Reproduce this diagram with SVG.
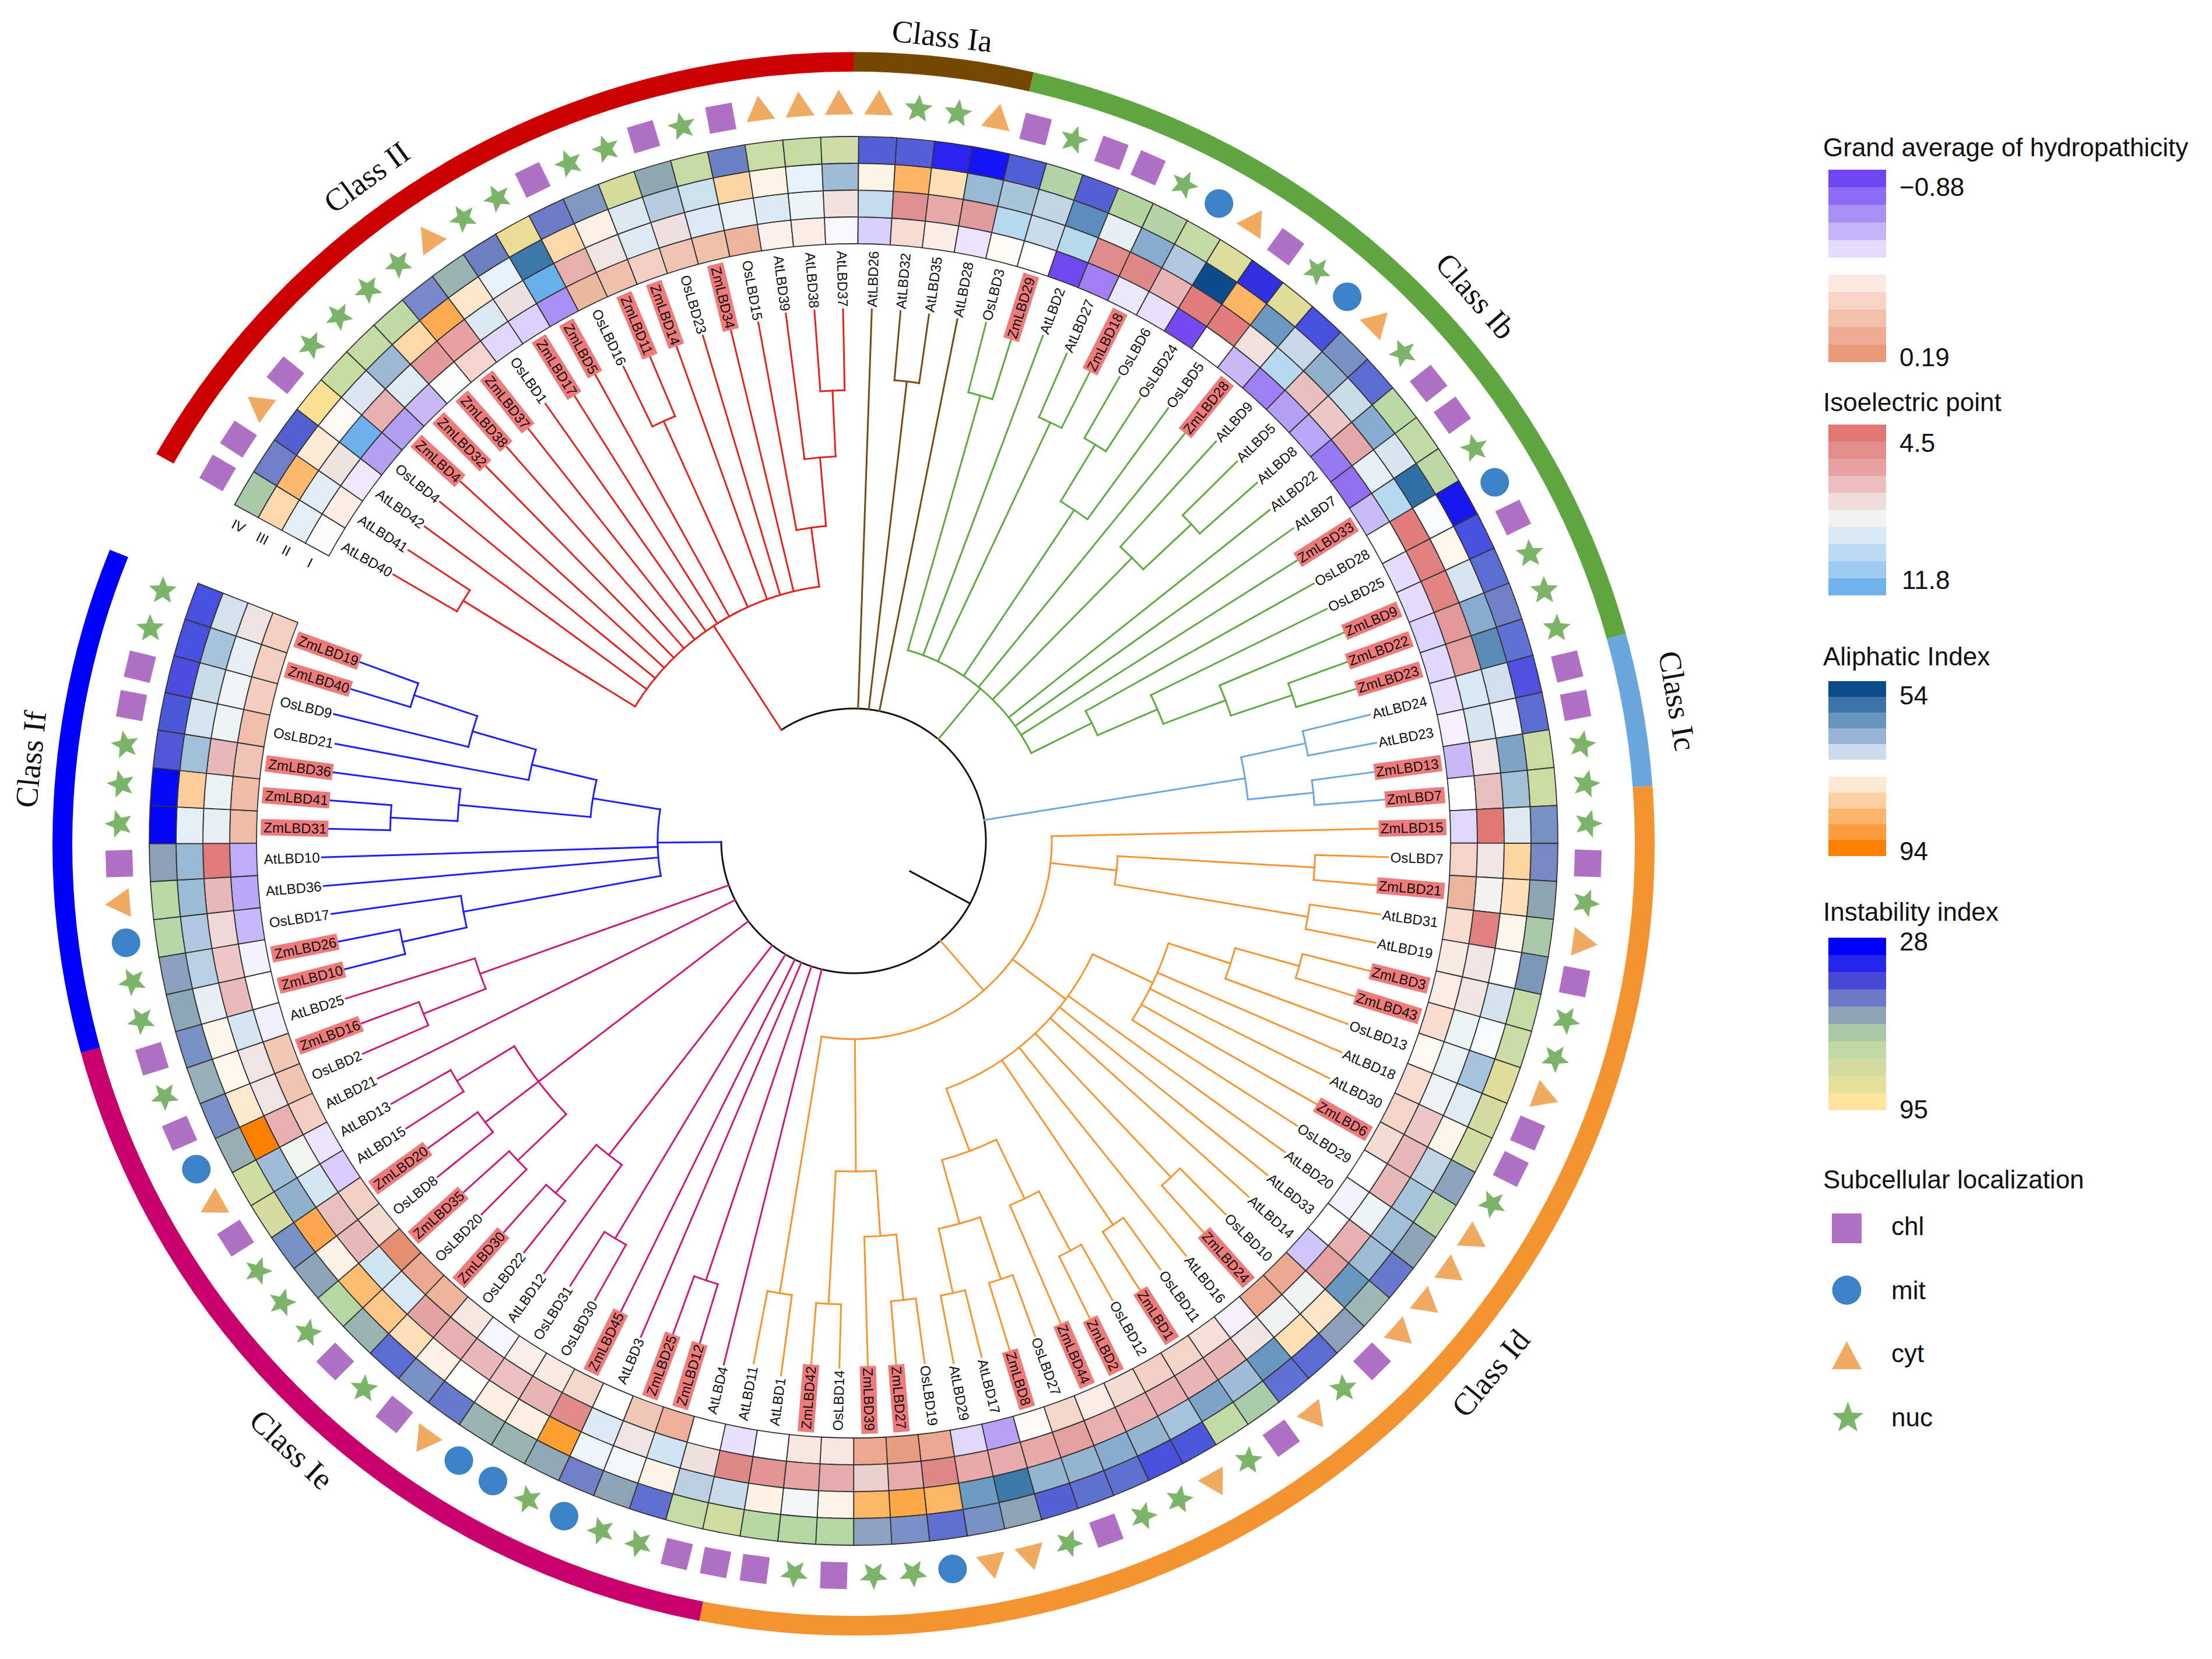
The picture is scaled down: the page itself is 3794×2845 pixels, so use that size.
<svg xmlns="http://www.w3.org/2000/svg" width="3794" height="2845" viewBox="0 0 3794 2845">
<defs>
<style>
.lr,.ll{font-family:"Liberation Sans",Arial,sans-serif;font-size:24px;fill:#111;dominant-baseline:central}
.lr{text-anchor:end}.ll{text-anchor:start}
.hm{font-family:"Liberation Sans",Arial,sans-serif;font-size:24px;fill:#111;text-anchor:middle;dominant-baseline:central}
.cl{font-family:"Liberation Serif","Times New Roman",serif;font-size:54px;fill:#111;text-anchor:middle;dominant-baseline:central}
.lg{font-family:"Liberation Sans",Arial,sans-serif;font-size:44px;fill:#111}
.hl{fill:#ee7b7b}
.chl{fill:#b071c4}.mit{fill:#3c82c6}.cyt{fill:#f1aa62}.nuc{fill:#7cb46a}
</style>
<path id="c1" stroke="#333" stroke-width="1.8" d="M1023.63,-27.66 L1069.61,-28.91 A1070,1070 0 0 1 1069.61,28.91 L1023.63,27.66 A1024,1024 0 0 0 1023.63,-27.66 Z"/>
<path id="c2" stroke="#333" stroke-width="1.8" d="M1069.61,-28.91 L1115.59,-30.15 A1116,1116 0 0 1 1115.59,30.15 L1069.61,28.91 A1070,1070 0 0 0 1069.61,-28.91 Z"/>
<path id="c3" stroke="#333" stroke-width="1.8" d="M1115.59,-30.15 L1161.58,-31.39 A1162,1162 0 0 1 1161.58,31.39 L1115.59,30.15 A1116,1116 0 0 0 1115.59,-30.15 Z"/>
<path id="c4" stroke="#333" stroke-width="1.8" d="M1161.58,-31.39 L1207.56,-32.63 A1208,1208 0 0 1 1207.56,32.63 L1161.58,31.39 A1162,1162 0 0 0 1161.58,-31.39 Z"/>
<rect id="sq" x="1237" y="-23" width="46" height="46"/>
<circle id="ci" cx="1260" cy="0" r="24.5"/>
<polygon id="tr" points="1288.5,0 1245.75,-24.68 1245.75,24.68"/>
<polygon id="st" points="1285,0 1268.9,6.47 1267.73,23.78 1256.6,10.46 1239.77,14.69 1249,0 1239.77,-14.69 1256.6,-10.46 1267.73,-23.78 1268.9,-6.47"/>
<rect id="b1" x="914.3" y="-14" width="102.7" height="28"/>
<rect id="b2" x="901" y="-14" width="116" height="28"/>
</defs>
<rect width="3794" height="2845" fill="#ffffff"/>

<g id="class-ring" transform="translate(1464 1447) scale(1 0.9882)" fill="none" stroke-width="34">
<circle r="1357" transform="rotate(209.5)" stroke="#cc0000" stroke-dasharray="1432.9 9999"/>
<circle r="1357" transform="rotate(270)" stroke="#744800" stroke-dasharray="307.9 9999"/>
<circle r="1357" transform="rotate(283)" stroke="#5fa641" stroke-dasharray="1458.9 9999"/>
<circle r="1357" transform="rotate(344.6)" stroke="#6ba6dc" stroke-dasharray="265.3 9999"/>
<circle r="1357" transform="rotate(355.8)" stroke="#f39431" stroke-dasharray="2493.9 9999"/>
<circle r="1357" transform="rotate(461.1)" stroke="#c8006e" stroke-dasharray="1506.3 9999"/>
<circle r="1357" transform="rotate(524.7)" stroke="#0000ff" stroke-dasharray="878.7 9999"/>
</g>
<g id="class-labels">
<text class="cl" transform="translate(1616 62) rotate(6.3)">Class Ia</text>
<text class="cl" transform="translate(629 304) rotate(-36.2)">Class II</text>
<text class="cl" transform="translate(2531 508) rotate(48.7)">Class Ib</text>
<text class="cl" transform="translate(2877 1202) rotate(80.2)">Class Ic</text>
<text class="cl" transform="translate(2557 2355) rotate(-50.3)">Class Id</text>
<text class="cl" transform="translate(500 2486) rotate(42.9)">Class Ie</text>
<text class="cl" transform="translate(53 1302) rotate(-84.1)">Class If</text>
</g>

<g id="connectors" transform="translate(1464 1442)" fill="none" stroke-width="3" stroke-linecap="square">
<g stroke="#111">
<circle r="227" transform="rotate(236.95)" stroke-dasharray="1198.6 9999"/>
<line x1="110" x2="227" transform="rotate(28.25)"/>
</g>
<g stroke="#e3231e">
<line x1="227" x2="440" transform="rotate(236.95)"/>
<circle r="440" transform="rotate(211.6)" stroke-dasharray="389.3 9999"/>
<line x1="440" x2="786" transform="rotate(211.6)"/>
<circle r="786" transform="rotate(210.05)" stroke-dasharray="42.5 9999"/>
<line x1="786" x2="912" transform="rotate(210.05)"/>
<line x1="786" x2="912" transform="rotate(213.15)"/>
<line x1="440" x2="912" transform="rotate(216.24)"/>
<line x1="440" x2="917.3" transform="rotate(219.34)"/>
<line x1="440" x2="913.3" transform="rotate(222.43)"/>
<line x1="440" x2="900" transform="rotate(225.53)"/>
<line x1="440" x2="900" transform="rotate(228.63)"/>
<line x1="440" x2="900" transform="rotate(231.72)"/>
<line x1="440" x2="917.3" transform="rotate(234.82)"/>
<line x1="440" x2="900" transform="rotate(237.91)"/>
<line x1="440" x2="913.3" transform="rotate(241.01)"/>
<line x1="440" x2="790" transform="rotate(245.655)"/>
<circle r="790" transform="rotate(244.11)" stroke-dasharray="42.6 9999"/>
<line x1="790" x2="904" transform="rotate(244.11)"/>
<line x1="790" x2="900" transform="rotate(247.2)"/>
<line x1="440" x2="900" transform="rotate(250.3)"/>
<line x1="440" x2="904" transform="rotate(253.39)"/>
<line x1="440" x2="900" transform="rotate(256.49)"/>
<line x1="440" x2="542" transform="rotate(262.3)"/>
<circle r="542" transform="rotate(259.59)" stroke-dasharray="51.2 9999"/>
<line x1="542" x2="904" transform="rotate(259.59)"/>
<line x1="542" x2="660" transform="rotate(265)"/>
<circle r="660" transform="rotate(262.68)" stroke-dasharray="53.6 9999"/>
<line x1="660" x2="912" transform="rotate(262.68)"/>
<line x1="660" x2="773" transform="rotate(267.325)"/>
<circle r="773" transform="rotate(265.78)" stroke-dasharray="41.7 9999"/>
<line x1="773" x2="912" transform="rotate(265.78)"/>
<line x1="773" x2="912" transform="rotate(268.87)"/>
</g>
<g stroke="#7b4a12">
<line x1="227" x2="912" transform="rotate(271.97)"/>
<line x1="227" x2="793" transform="rotate(276.615)"/>
<circle r="793" transform="rotate(275.07)" stroke-dasharray="42.8 9999"/>
<line x1="793" x2="912" transform="rotate(275.07)"/>
<line x1="793" x2="912" transform="rotate(278.16)"/>
<line x1="227" x2="912" transform="rotate(281.26)"/>
</g>
<g stroke="#5cab3e">
<line x1="227" x2="340" transform="rotate(309.8)"/>
<circle r="340" transform="rotate(285.9)" stroke-dasharray="283.7 9999"/>
<line x1="340" x2="794" transform="rotate(285.9)"/>
<circle r="794" transform="rotate(284.35)" stroke-dasharray="43 9999"/>
<line x1="794" x2="917.3" transform="rotate(284.35)"/>
<line x1="794" x2="900" transform="rotate(287.45)"/>
<line x1="340" x2="925.3" transform="rotate(290.55)"/>
<line x1="340" x2="793" transform="rotate(295.19)"/>
<circle r="793" transform="rotate(293.64)" stroke-dasharray="42.9 9999"/>
<line x1="793" x2="912" transform="rotate(293.64)"/>
<line x1="793" x2="900" transform="rotate(296.74)"/>
<line x1="340" x2="682" transform="rotate(303.705)"/>
<circle r="682" transform="rotate(301.38)" stroke-dasharray="55.3 9999"/>
<line x1="682" x2="796" transform="rotate(301.38)"/>
<circle r="796" transform="rotate(299.83)" stroke-dasharray="43.1 9999"/>
<line x1="796" x2="917.3" transform="rotate(299.83)"/>
<line x1="796" x2="904" transform="rotate(302.93)"/>
<line x1="682" x2="917.3" transform="rotate(306.03)"/>
<line x1="340" x2="900" transform="rotate(309.12)"/>
<line x1="340" x2="681" transform="rotate(314.54)"/>
<circle r="681" transform="rotate(312.22)" stroke-dasharray="55.2 9999"/>
<line x1="681" x2="925.3" transform="rotate(312.22)"/>
<line x1="681" x2="794" transform="rotate(316.86)"/>
<circle r="794" transform="rotate(315.31)" stroke-dasharray="43 9999"/>
<line x1="794" x2="925.3" transform="rotate(315.31)"/>
<line x1="794" x2="925.3" transform="rotate(318.41)"/>
<line x1="340" x2="912" transform="rotate(321.51)"/>
<line x1="340" x2="925.3" transform="rotate(324.6)"/>
<line x1="340" x2="900" transform="rotate(327.7)"/>
<line x1="340" x2="456" transform="rotate(333.695)"/>
<circle r="456" transform="rotate(330.79)" stroke-dasharray="46.2 9999"/>
<line x1="456" x2="904" transform="rotate(330.79)"/>
<line x1="456" x2="568" transform="rotate(336.6)"/>
<circle r="568" transform="rotate(333.89)" stroke-dasharray="53.7 9999"/>
<line x1="568" x2="904" transform="rotate(333.89)"/>
<line x1="568" x2="682" transform="rotate(339.31)"/>
<circle r="682" transform="rotate(336.99)" stroke-dasharray="55.2 9999"/>
<line x1="682" x2="913.3" transform="rotate(336.99)"/>
<line x1="682" x2="793" transform="rotate(341.63)"/>
<circle r="793" transform="rotate(340.08)" stroke-dasharray="42.9 9999"/>
<line x1="793" x2="900" transform="rotate(340.08)"/>
<line x1="793" x2="900" transform="rotate(343.18)"/>
</g>
<g stroke="#6aa8e0">
<line x1="227" x2="680" transform="rotate(350.92)"/>
<circle r="680" transform="rotate(347.82)" stroke-dasharray="73.5 9999"/>
<line x1="680" x2="793" transform="rotate(347.82)"/>
<circle r="793" transform="rotate(346.27)" stroke-dasharray="42.9 9999"/>
<line x1="793" x2="912" transform="rotate(346.27)"/>
<line x1="793" x2="912" transform="rotate(349.37)"/>
<line x1="680" x2="793" transform="rotate(354.015)"/>
<circle r="793" transform="rotate(352.47)" stroke-dasharray="42.8 9999"/>
<line x1="793" x2="900" transform="rotate(352.47)"/>
<line x1="793" x2="913.3" transform="rotate(355.56)"/>
</g>
<g stroke="#f7942f">
<line x1="227" x2="340" transform="rotate(48.97)"/>
<circle r="340" transform="rotate(358.66)" stroke-dasharray="597.1 9999"/>
<line x1="340" x2="900" transform="rotate(358.66)"/>
<line x1="340" x2="454" transform="rotate(6.4)"/>
<circle r="454" transform="rotate(3.3)" stroke-dasharray="49.1 9999"/>
<line x1="454" x2="792" transform="rotate(3.3)"/>
<circle r="792" transform="rotate(1.75)" stroke-dasharray="42.9 9999"/>
<line x1="792" x2="917.3" transform="rotate(1.75)"/>
<line x1="792" x2="900" transform="rotate(4.85)"/>
<line x1="454" x2="790" transform="rotate(9.495)"/>
<circle r="790" transform="rotate(7.95)" stroke-dasharray="42.6 9999"/>
<line x1="790" x2="912" transform="rotate(7.95)"/>
<line x1="790" x2="912" transform="rotate(11.04)"/>
<line x1="340" x2="454" transform="rotate(36.7)"/>
<circle r="454" transform="rotate(25.36)" stroke-dasharray="349.6 9999"/>
<line x1="454" x2="568" transform="rotate(25.36)"/>
<circle r="568" transform="rotate(18.01)" stroke-dasharray="145.7 9999"/>
<line x1="568" x2="680" transform="rotate(18.01)"/>
<circle r="680" transform="rotate(15.685)" stroke-dasharray="55.1 9999"/>
<line x1="680" x2="794" transform="rotate(15.685)"/>
<circle r="794" transform="rotate(14.14)" stroke-dasharray="42.8 9999"/>
<line x1="794" x2="913.3" transform="rotate(14.14)"/>
<line x1="794" x2="900" transform="rotate(17.23)"/>
<line x1="680" x2="904" transform="rotate(20.33)"/>
<line x1="568" x2="912" transform="rotate(23.43)"/>
<line x1="568" x2="912" transform="rotate(26.52)"/>
<line x1="568" x2="913.3" transform="rotate(29.62)"/>
<line x1="568" x2="904" transform="rotate(32.71)"/>
<line x1="454" x2="912" transform="rotate(35.81)"/>
<line x1="454" x2="912" transform="rotate(38.91)"/>
<line x1="454" x2="912" transform="rotate(42)"/>
<line x1="454" x2="793" transform="rotate(46.645)"/>
<circle r="793" transform="rotate(45.1)" stroke-dasharray="42.8 9999"/>
<line x1="793" x2="904" transform="rotate(45.1)"/>
<line x1="793" x2="900" transform="rotate(48.19)"/>
<line x1="454" x2="912" transform="rotate(51.29)"/>
<line x1="454" x2="795" transform="rotate(55.935)"/>
<circle r="795" transform="rotate(54.39)" stroke-dasharray="42.9 9999"/>
<line x1="795" x2="904" transform="rotate(54.39)"/>
<line x1="795" x2="913.3" transform="rotate(57.48)"/>
<line x1="454" x2="568" transform="rotate(69.48)"/>
<circle r="568" transform="rotate(64.45)" stroke-dasharray="99.7 9999"/>
<line x1="568" x2="680" transform="rotate(64.45)"/>
<circle r="680" transform="rotate(62.125)" stroke-dasharray="55.1 9999"/>
<line x1="680" x2="795" transform="rotate(62.125)"/>
<circle r="795" transform="rotate(60.58)" stroke-dasharray="42.9 9999"/>
<line x1="795" x2="904" transform="rotate(60.58)"/>
<line x1="795" x2="913.3" transform="rotate(63.67)"/>
<line x1="680" x2="900" transform="rotate(66.77)"/>
<line x1="568" x2="681" transform="rotate(74.51)"/>
<circle r="681" transform="rotate(71.415)" stroke-dasharray="73.6 9999"/>
<line x1="681" x2="793" transform="rotate(71.415)"/>
<circle r="793" transform="rotate(69.87)" stroke-dasharray="42.8 9999"/>
<line x1="793" x2="904" transform="rotate(69.87)"/>
<line x1="793" x2="913.3" transform="rotate(72.96)"/>
<line x1="681" x2="794" transform="rotate(77.605)"/>
<circle r="794" transform="rotate(76.06)" stroke-dasharray="42.8 9999"/>
<line x1="794" x2="912" transform="rotate(76.06)"/>
<line x1="794" x2="912" transform="rotate(79.15)"/>
<line x1="340" x2="567" transform="rotate(89.6)"/>
<circle r="567" transform="rotate(86.12)" stroke-dasharray="68.9 9999"/>
<line x1="567" x2="679" transform="rotate(86.12)"/>
<circle r="679" transform="rotate(83.8)" stroke-dasharray="55 9999"/>
<line x1="679" x2="792" transform="rotate(83.8)"/>
<circle r="792" transform="rotate(82.25)" stroke-dasharray="42.9 9999"/>
<line x1="792" x2="904" transform="rotate(82.25)"/>
<line x1="792" x2="900" transform="rotate(85.35)"/>
<line x1="679" x2="900" transform="rotate(88.44)"/>
<line x1="567" x2="795" transform="rotate(93.085)"/>
<circle r="795" transform="rotate(91.54)" stroke-dasharray="42.9 9999"/>
<line x1="795" x2="904" transform="rotate(91.54)"/>
<line x1="795" x2="900" transform="rotate(94.63)"/>
<line x1="340" x2="786" transform="rotate(99.28)"/>
<circle r="786" transform="rotate(97.73)" stroke-dasharray="42.5 9999"/>
<line x1="786" x2="925.3" transform="rotate(97.73)"/>
<line x1="786" x2="912" transform="rotate(100.83)"/>
</g>
<g stroke="#cc1a7a">
<line x1="227" x2="925.3" transform="rotate(103.92)"/>
<line x1="227" x2="795" transform="rotate(108.565)"/>
<circle r="795" transform="rotate(107.02)" stroke-dasharray="42.9 9999"/>
<line x1="795" x2="900" transform="rotate(107.02)"/>
<line x1="795" x2="900" transform="rotate(110.11)"/>
<line x1="227" x2="925.3" transform="rotate(113.21)"/>
<line x1="227" x2="900" transform="rotate(116.31)"/>
<line x1="227" x2="795" transform="rotate(120.95)"/>
<circle r="795" transform="rotate(119.4)" stroke-dasharray="43 9999"/>
<line x1="795" x2="904" transform="rotate(119.4)"/>
<line x1="795" x2="904" transform="rotate(122.5)"/>
<line x1="227" x2="683" transform="rotate(127.915)"/>
<circle r="683" transform="rotate(125.59)" stroke-dasharray="55.4 9999"/>
<line x1="683" x2="912" transform="rotate(125.59)"/>
<line x1="683" x2="791" transform="rotate(130.24)"/>
<circle r="791" transform="rotate(128.69)" stroke-dasharray="42.8 9999"/>
<line x1="791" x2="904" transform="rotate(128.69)"/>
<line x1="791" x2="900" transform="rotate(131.79)"/>
<line x1="227" x2="680" transform="rotate(142.62)"/>
<circle r="680" transform="rotate(136.43)" stroke-dasharray="147 9999"/>
<line x1="680" x2="795" transform="rotate(136.43)"/>
<circle r="795" transform="rotate(134.88)" stroke-dasharray="43 9999"/>
<line x1="795" x2="904" transform="rotate(134.88)"/>
<line x1="795" x2="900" transform="rotate(137.98)"/>
<line x1="680" x2="795" transform="rotate(142.62)"/>
<circle r="795" transform="rotate(141.07)" stroke-dasharray="43 9999"/>
<line x1="795" x2="917.3" transform="rotate(141.07)"/>
<line x1="795" x2="900" transform="rotate(144.17)"/>
<line x1="680" x2="795" transform="rotate(148.815)"/>
<circle r="795" transform="rotate(147.27)" stroke-dasharray="42.9 9999"/>
<line x1="795" x2="912" transform="rotate(147.27)"/>
<line x1="795" x2="912" transform="rotate(150.36)"/>
<line x1="227" x2="912" transform="rotate(153.46)"/>
<line x1="227" x2="680" transform="rotate(160.425)"/>
<circle r="680" transform="rotate(158.1)" stroke-dasharray="55.2 9999"/>
<line x1="680" x2="795" transform="rotate(158.1)"/>
<circle r="795" transform="rotate(156.55)" stroke-dasharray="43 9999"/>
<line x1="795" x2="917.3" transform="rotate(156.55)"/>
<line x1="795" x2="900" transform="rotate(159.65)"/>
<line x1="680" x2="912" transform="rotate(162.75)"/>
</g>
<g stroke="#1e1eff">
<line x1="227" x2="336" transform="rotate(179.48)"/>
<circle r="336" transform="rotate(169.71)" stroke-dasharray="114.6 9999"/>
<line x1="336" x2="680" transform="rotate(169.71)"/>
<circle r="680" transform="rotate(167.39)" stroke-dasharray="55.1 9999"/>
<line x1="680" x2="793" transform="rotate(167.39)"/>
<circle r="793" transform="rotate(165.84)" stroke-dasharray="42.9 9999"/>
<line x1="793" x2="900" transform="rotate(165.84)"/>
<line x1="793" x2="900" transform="rotate(168.94)"/>
<line x1="680" x2="904" transform="rotate(172.03)"/>
<line x1="336" x2="912" transform="rotate(175.13)"/>
<line x1="336" x2="912" transform="rotate(178.23)"/>
<line x1="336" x2="453" transform="rotate(189.255)"/>
<circle r="453" transform="rotate(185.19)" stroke-dasharray="64.3 9999"/>
<line x1="453" x2="680" transform="rotate(185.19)"/>
<circle r="680" transform="rotate(182.87)" stroke-dasharray="55.1 9999"/>
<line x1="680" x2="795" transform="rotate(182.87)"/>
<circle r="795" transform="rotate(181.32)" stroke-dasharray="43 9999"/>
<line x1="795" x2="900" transform="rotate(181.32)"/>
<line x1="795" x2="900" transform="rotate(184.42)"/>
<line x1="680" x2="900" transform="rotate(187.51)"/>
<line x1="453" x2="567" transform="rotate(193.32)"/>
<circle r="567" transform="rotate(190.61)" stroke-dasharray="53.6 9999"/>
<line x1="567" x2="904" transform="rotate(190.61)"/>
<line x1="567" x2="680" transform="rotate(196.03)"/>
<circle r="680" transform="rotate(193.71)" stroke-dasharray="55.1 9999"/>
<line x1="680" x2="917.3" transform="rotate(193.71)"/>
<line x1="680" x2="794" transform="rotate(198.35)"/>
<circle r="794" transform="rotate(196.8)" stroke-dasharray="42.9 9999"/>
<line x1="794" x2="900" transform="rotate(196.8)"/>
<line x1="794" x2="900" transform="rotate(199.9)"/>
</g>
</g>

<g id="leaves" transform="translate(1464 1442)">
<g id="hm-labels" transform="rotate(207.1)">
<text class="hm" x="-1185" transform="rotate(180)">IV</text>
<text class="hm" x="-1139" transform="rotate(180)">III</text>
<text class="hm" x="-1093" transform="rotate(180)">II</text>
<text class="hm" x="-1047" transform="rotate(180)">I</text>
</g>
<g id="leaf-AtLBD40" transform="rotate(210.05)"><use href="#c1" fill="#fcfcfc"/><use href="#c2" fill="#e4eef4"/><use href="#c3" fill="#fdd8ac"/><use href="#c4" fill="#a8c8a8"/><use href="#sq" class="chl"/><text class="ll" x="-1012" transform="rotate(180)">AtLBD40</text></g>
<g id="leaf-AtLBD41" transform="rotate(213.15)"><use href="#c1" fill="#fcece6"/><use href="#c2" fill="#e2ecf4"/><use href="#c3" fill="#fdb870"/><use href="#c4" fill="#7080c8"/><use href="#sq" class="chl"/><text class="ll" x="-1012" transform="rotate(180)">AtLBD41</text></g>
<g id="leaf-AtLBD42" transform="rotate(216.24)"><use href="#c1" fill="#efe8fc"/><use href="#c2" fill="#ede3e0"/><use href="#c3" fill="#fdebd5"/><use href="#c4" fill="#5560d0"/><use href="#tr" class="cyt"/><text class="ll" x="-1012" transform="rotate(180)">AtLBD42</text></g>
<g id="leaf-OsLBD4" transform="rotate(219.34)"><use href="#c1" fill="#b4a0f0"/><use href="#c2" fill="#6db0ec"/><use href="#c3" fill="#fdfaf5"/><use href="#c4" fill="#fde094"/><use href="#sq" class="chl"/><text class="ll" x="-1012" transform="rotate(180)">OsLBD4</text></g>
<g id="leaf-ZmLBD4" transform="rotate(222.43)"><use href="#c1" fill="#b0a0f4"/><use href="#c2" fill="#e8b0b0"/><use href="#c3" fill="#dce6f0"/><use href="#c4" fill="#c8dca0"/><use href="#st" class="nuc"/><use href="#b1" class="hl"/><text class="ll" x="-1012" transform="rotate(180)">ZmLBD4</text></g>
<g id="leaf-ZmLBD32" transform="rotate(225.53)"><use href="#c1" fill="#c8b8f8"/><use href="#c2" fill="#e0ecf4"/><use href="#c3" fill="#9cb8d4"/><use href="#c4" fill="#c4dca4"/><use href="#st" class="nuc"/><use href="#b2" class="hl"/><text class="ll" x="-1012" transform="rotate(180)">ZmLBD32</text></g>
<g id="leaf-ZmLBD38" transform="rotate(228.63)"><use href="#c1" fill="#fcfcfc"/><use href="#c2" fill="#e49a9a"/><use href="#c3" fill="#fdd8a8"/><use href="#c4" fill="#c0daa4"/><use href="#st" class="nuc"/><use href="#b2" class="hl"/><text class="ll" x="-1012" transform="rotate(180)">ZmLBD38</text></g>
<g id="leaf-ZmLBD37" transform="rotate(231.72)"><use href="#c1" fill="#f4d4cc"/><use href="#c2" fill="#e8a0a0"/><use href="#c3" fill="#fdaa50"/><use href="#c4" fill="#7888c8"/><use href="#st" class="nuc"/><use href="#b2" class="hl"/><text class="ll" x="-1012" transform="rotate(180)">ZmLBD37</text></g>
<g id="leaf-OsLBD1" transform="rotate(234.82)"><use href="#c1" fill="#e0d8fc"/><use href="#c2" fill="#dce8f0"/><use href="#c3" fill="#fde6cc"/><use href="#c4" fill="#98b4b0"/><use href="#tr" class="cyt"/><text class="ll" x="-1012" transform="rotate(180)">OsLBD1</text></g>
<g id="leaf-ZmLBD17" transform="rotate(237.91)"><use href="#c1" fill="#dcd0fc"/><use href="#c2" fill="#ede0e0"/><use href="#c3" fill="#e8f0f8"/><use href="#c4" fill="#6c80c0"/><use href="#st" class="nuc"/><use href="#b2" class="hl"/><text class="ll" x="-1012" transform="rotate(180)">ZmLBD17</text></g>
<g id="leaf-ZmLBD5" transform="rotate(241.01)"><use href="#c1" fill="#a890f4"/><use href="#c2" fill="#68b0ec"/><use href="#c3" fill="#3c78a8"/><use href="#c4" fill="#ecdc98"/><use href="#st" class="nuc"/><use href="#b1" class="hl"/><text class="ll" x="-1012" transform="rotate(180)">ZmLBD5</text></g>
<g id="leaf-OsLBD16" transform="rotate(244.11)"><use href="#c1" fill="#ecb8a0"/><use href="#c2" fill="#e8b0ac"/><use href="#c3" fill="#fdd8a8"/><use href="#c4" fill="#6c7cc8"/><use href="#sq" class="chl"/><text class="ll" x="-1012" transform="rotate(180)">OsLBD16</text></g>
<g id="leaf-ZmLBD11" transform="rotate(247.2)"><use href="#c1" fill="#f0c0ac"/><use href="#c2" fill="#f0e4e4"/><use href="#c3" fill="#fdf0e4"/><use href="#c4" fill="#8098c0"/><use href="#st" class="nuc"/><use href="#b2" class="hl"/><text class="ll" x="-1012" transform="rotate(180)">ZmLBD11</text></g>
<g id="leaf-ZmLBD14" transform="rotate(250.3)"><use href="#c1" fill="#f4d0c4"/><use href="#c2" fill="#dceaf4"/><use href="#c3" fill="#dce8f0"/><use href="#c4" fill="#d4dc9c"/><use href="#st" class="nuc"/><use href="#b2" class="hl"/><text class="ll" x="-1012" transform="rotate(180)">ZmLBD14</text></g>
<g id="leaf-OsLBD23" transform="rotate(253.39)"><use href="#c1" fill="#f0c4b4"/><use href="#c2" fill="#eee0e0"/><use href="#c3" fill="#b8cce0"/><use href="#c4" fill="#90a8b0"/><use href="#sq" class="chl"/><text class="ll" x="-1012" transform="rotate(180)">OsLBD23</text></g>
<g id="leaf-ZmLBD34" transform="rotate(256.49)"><use href="#c1" fill="#f0c0ac"/><use href="#c2" fill="#dceaf4"/><use href="#c3" fill="#cce0ee"/><use href="#c4" fill="#c4dca4"/><use href="#st" class="nuc"/><use href="#b2" class="hl"/><text class="ll" x="-1012" transform="rotate(180)">ZmLBD34</text></g>
<g id="leaf-OsLBD15" transform="rotate(259.59)"><use href="#c1" fill="#ecb49c"/><use href="#c2" fill="#eaf2f6"/><use href="#c3" fill="#fdd4a4"/><use href="#c4" fill="#6c80c4"/><use href="#sq" class="chl"/><text class="ll" x="-1012" transform="rotate(180)">OsLBD15</text></g>
<g id="leaf-AtLBD39" transform="rotate(262.68)"><use href="#c1" fill="#fcf0ec"/><use href="#c2" fill="#dceaf4"/><use href="#c3" fill="#fdf4e8"/><use href="#c4" fill="#c8dca4"/><use href="#tr" class="cyt"/><text class="ll" x="-1012" transform="rotate(180)">AtLBD39</text></g>
<g id="leaf-AtLBD38" transform="rotate(265.78)"><use href="#c1" fill="#faebe4"/><use href="#c2" fill="#eef4f4"/><use href="#c3" fill="#e8f0f8"/><use href="#c4" fill="#c4dca4"/><use href="#tr" class="cyt"/><text class="ll" x="-1012" transform="rotate(180)">AtLBD38</text></g>
<g id="leaf-AtLBD37" transform="rotate(268.87)"><use href="#c1" fill="#f8f8fc"/><use href="#c2" fill="#f0e0e0"/><use href="#c3" fill="#a0bcd4"/><use href="#c4" fill="#d0dca8"/><use href="#tr" class="cyt"/><text class="ll" x="-1012" transform="rotate(180)">AtLBD37</text></g>
<g id="leaf-AtLBD26" transform="rotate(271.97)"><use href="#c1" fill="#d8d0fc"/><use href="#c2" fill="#c4dcf0"/><use href="#c3" fill="#fdf4e8"/><use href="#c4" fill="#5560d8"/><use href="#tr" class="cyt"/><text class="lr" x="1012">AtLBD26</text></g>
<g id="leaf-AtLBD32" transform="rotate(275.07)"><use href="#c1" fill="#f8dcd4"/><use href="#c2" fill="#e09090"/><use href="#c3" fill="#fdb464"/><use href="#c4" fill="#5560d8"/><use href="#st" class="nuc"/><text class="lr" x="1012">AtLBD32</text></g>
<g id="leaf-AtLBD35" transform="rotate(278.16)"><use href="#c1" fill="#fbece8"/><use href="#c2" fill="#e8a8a8"/><use href="#c3" fill="#fde0b4"/><use href="#c4" fill="#2a24f0"/><use href="#st" class="nuc"/><text class="lr" x="1012">AtLBD35</text></g>
<g id="leaf-AtLBD28" transform="rotate(281.26)"><use href="#c1" fill="#ece4fc"/><use href="#c2" fill="#e09c9c"/><use href="#c3" fill="#98b8d4"/><use href="#c4" fill="#1414f4"/><use href="#tr" class="cyt"/><text class="lr" x="1012">AtLBD28</text></g>
<g id="leaf-OsLBD3" transform="rotate(284.35)"><use href="#c1" fill="#fffcf8"/><use href="#c2" fill="#b8d8f0"/><use href="#c3" fill="#a8c4d8"/><use href="#c4" fill="#5060d4"/><use href="#sq" class="chl"/><text class="lr" x="1012">OsLBD3</text></g>
<g id="leaf-ZmLBD29" transform="rotate(287.45)"><use href="#c1" fill="#ffffff"/><use href="#c2" fill="#c8dcec"/><use href="#c3" fill="#c0d4e4"/><use href="#c4" fill="#b0d4a8"/><use href="#st" class="nuc"/><use href="#b2" class="hl"/><text class="lr" x="1012">ZmLBD29</text></g>
<g id="leaf-AtLBD2" transform="rotate(290.55)"><use href="#c1" fill="#7048f0"/><use href="#c2" fill="#b8d8ec"/><use href="#c3" fill="#5c8cbc"/><use href="#c4" fill="#5560d4"/><use href="#sq" class="chl"/><text class="lr" x="1012">AtLBD2</text></g>
<g id="leaf-AtLBD27" transform="rotate(293.64)"><use href="#c1" fill="#a080f4"/><use href="#c2" fill="#e08c8c"/><use href="#c3" fill="#e8eef4"/><use href="#c4" fill="#b4d4a0"/><use href="#sq" class="chl"/><text class="lr" x="1012">AtLBD27</text></g>
<g id="leaf-ZmLBD18" transform="rotate(296.74)"><use href="#c1" fill="#ece8fc"/><use href="#c2" fill="#e08888"/><use href="#c3" fill="#88acd0"/><use href="#c4" fill="#b4d4a8"/><use href="#st" class="nuc"/><use href="#b2" class="hl"/><text class="lr" x="1012">ZmLBD18</text></g>
<g id="leaf-OsLBD6" transform="rotate(299.83)"><use href="#c1" fill="#e8e0fc"/><use href="#c2" fill="#e8b4b4"/><use href="#c3" fill="#b0c8e0"/><use href="#c4" fill="#c4dca4"/><use href="#ci" class="mit"/><text class="lr" x="1012">OsLBD6</text></g>
<g id="leaf-OsLBD24" transform="rotate(302.93)"><use href="#c1" fill="#7848f0"/><use href="#c2" fill="#e07c7c"/><use href="#c3" fill="#0c4c8c"/><use href="#c4" fill="#dcdc9c"/><use href="#tr" class="cyt"/><text class="lr" x="1012">OsLBD24</text></g>
<g id="leaf-OsLBD5" transform="rotate(306.03)"><use href="#c1" fill="#ffffff"/><use href="#c2" fill="#e07c7c"/><use href="#c3" fill="#fdb464"/><use href="#c4" fill="#3030e0"/><use href="#sq" class="chl"/><text class="lr" x="1012">OsLBD5</text></g>
<g id="leaf-ZmLBD28" transform="rotate(309.12)"><use href="#c1" fill="#c8b8f8"/><use href="#c2" fill="#f0e0e0"/><use href="#c3" fill="#6a98c0"/><use href="#c4" fill="#e0dc9c"/><use href="#st" class="nuc"/><use href="#b2" class="hl"/><text class="lr" x="1012">ZmLBD28</text></g>
<g id="leaf-AtLBD9" transform="rotate(312.22)"><use href="#c1" fill="#9c80f4"/><use href="#c2" fill="#b8d8f0"/><use href="#c3" fill="#c8d8e8"/><use href="#c4" fill="#4850e0"/><use href="#ci" class="mit"/><text class="lr" x="1012">AtLBD9</text></g>
<g id="leaf-AtLBD5" transform="rotate(315.31)"><use href="#c1" fill="#b4a0f4"/><use href="#c2" fill="#e8c0c0"/><use href="#c3" fill="#90b0cc"/><use href="#c4" fill="#7890c4"/><use href="#tr" class="cyt"/><text class="lr" x="1012">AtLBD5</text></g>
<g id="leaf-AtLBD8" transform="rotate(318.41)"><use href="#c1" fill="#b8a8f8"/><use href="#c2" fill="#ecc8c8"/><use href="#c3" fill="#c8dce8"/><use href="#c4" fill="#5c6cd4"/><use href="#st" class="nuc"/><text class="lr" x="1012">AtLBD8</text></g>
<g id="leaf-AtLBD22" transform="rotate(321.51)"><use href="#c1" fill="#9878f4"/><use href="#c2" fill="#e4a8a8"/><use href="#c3" fill="#88acd0"/><use href="#c4" fill="#b8d8a4"/><use href="#sq" class="chl"/><text class="lr" x="1012">AtLBD22</text></g>
<g id="leaf-AtLBD7" transform="rotate(324.6)"><use href="#c1" fill="#9070f0"/><use href="#c2" fill="#e8f0f4"/><use href="#c3" fill="#d8e4ee"/><use href="#c4" fill="#c0dca4"/><use href="#sq" class="chl"/><text class="lr" x="1012">AtLBD7</text></g>
<g id="leaf-ZmLBD33" transform="rotate(327.7)"><use href="#c1" fill="#c8bcf8"/><use href="#c2" fill="#b8d8f0"/><use href="#c3" fill="#3070a4"/><use href="#c4" fill="#bcd8a4"/><use href="#st" class="nuc"/><use href="#b2" class="hl"/><text class="lr" x="1012">ZmLBD33</text></g>
<g id="leaf-OsLBD28" transform="rotate(330.79)"><use href="#c1" fill="#ffffff"/><use href="#c2" fill="#e07c7c"/><use href="#c3" fill="#f8fafc"/><use href="#c4" fill="#1818ec"/><use href="#ci" class="mit"/><text class="lr" x="1012">OsLBD28</text></g>
<g id="leaf-OsLBD25" transform="rotate(333.89)"><use href="#c1" fill="#e4dcfc"/><use href="#c2" fill="#e08080"/><use href="#c3" fill="#fdf8f0"/><use href="#c4" fill="#4850e0"/><use href="#sq" class="chl"/><text class="lr" x="1012">OsLBD25</text></g>
<g id="leaf-ZmLBD9" transform="rotate(336.99)"><use href="#c1" fill="#e4dcfc"/><use href="#c2" fill="#e08484"/><use href="#c3" fill="#d8e4ee"/><use href="#c4" fill="#5c6cd4"/><use href="#st" class="nuc"/><use href="#b1" class="hl"/><text class="lr" x="1012">ZmLBD9</text></g>
<g id="leaf-ZmLBD22" transform="rotate(340.08)"><use href="#c1" fill="#dcd4fc"/><use href="#c2" fill="#e49a9a"/><use href="#c3" fill="#88acd0"/><use href="#c4" fill="#7080c8"/><use href="#st" class="nuc"/><use href="#b2" class="hl"/><text class="lr" x="1012">ZmLBD22</text></g>
<g id="leaf-ZmLBD23" transform="rotate(343.18)"><use href="#c1" fill="#e0d8fc"/><use href="#c2" fill="#e4a0a0"/><use href="#c3" fill="#5a8cb8"/><use href="#c4" fill="#6070d4"/><use href="#st" class="nuc"/><use href="#b2" class="hl"/><text class="lr" x="1012">ZmLBD23</text></g>
<g id="leaf-AtLBD24" transform="rotate(346.27)"><use href="#c1" fill="#e8e0fc"/><use href="#c2" fill="#d8e8f4"/><use href="#c3" fill="#d0e0ee"/><use href="#c4" fill="#5050e0"/><use href="#sq" class="chl"/><text class="lr" x="1012">AtLBD24</text></g>
<g id="leaf-AtLBD23" transform="rotate(349.37)"><use href="#c1" fill="#f4f0fe"/><use href="#c2" fill="#d4e4f0"/><use href="#c3" fill="#f0f4f8"/><use href="#c4" fill="#5c6cd4"/><use href="#sq" class="chl"/><text class="lr" x="1012">AtLBD23</text></g>
<g id="leaf-ZmLBD13" transform="rotate(352.47)"><use href="#c1" fill="#c8b8f8"/><use href="#c2" fill="#f0e4e4"/><use href="#c3" fill="#7ca4c8"/><use href="#c4" fill="#ccdca0"/><use href="#st" class="nuc"/><use href="#b2" class="hl"/><text class="lr" x="1012">ZmLBD13</text></g>
<g id="leaf-ZmLBD7" transform="rotate(355.56)"><use href="#c1" fill="#ffffff"/><use href="#c2" fill="#e8c0c0"/><use href="#c3" fill="#a4c0d8"/><use href="#c4" fill="#ccdca0"/><use href="#st" class="nuc"/><use href="#b1" class="hl"/><text class="lr" x="1012">ZmLBD7</text></g>
<g id="leaf-ZmLBD15" transform="rotate(358.66)"><use href="#c1" fill="#e0d8fc"/><use href="#c2" fill="#e07878"/><use href="#c3" fill="#e0e8f0"/><use href="#c4" fill="#7890c4"/><use href="#st" class="nuc"/><use href="#b2" class="hl"/><text class="lr" x="1012">ZmLBD15</text></g>
<g id="leaf-OsLBD7" transform="rotate(1.75)"><use href="#c1" fill="#f4d4c8"/><use href="#c2" fill="#f0e4e4"/><use href="#c3" fill="#fdd4a0"/><use href="#c4" fill="#7888c4"/><use href="#sq" class="chl"/><text class="lr" x="1012">OsLBD7</text></g>
<g id="leaf-ZmLBD21" transform="rotate(4.85)"><use href="#c1" fill="#ecb49c"/><use href="#c2" fill="#f2f2f2"/><use href="#c3" fill="#fde0b8"/><use href="#c4" fill="#8ca4b4"/><use href="#st" class="nuc"/><use href="#b2" class="hl"/><text class="lr" x="1012">ZmLBD21</text></g>
<g id="leaf-AtLBD31" transform="rotate(7.95)"><use href="#c1" fill="#f8dcd0"/><use href="#c2" fill="#e08080"/><use href="#c3" fill="#fdf6ec"/><use href="#c4" fill="#a8c8a8"/><use href="#tr" class="cyt"/><text class="lr" x="1012">AtLBD31</text></g>
<g id="leaf-AtLBD19" transform="rotate(11.04)"><use href="#c1" fill="#faeae4"/><use href="#c2" fill="#f0e4e4"/><use href="#c3" fill="#fdfdfd"/><use href="#c4" fill="#7c98b8"/><use href="#sq" class="chl"/><text class="lr" x="1012">AtLBD19</text></g>
<g id="leaf-ZmLBD3" transform="rotate(14.14)"><use href="#c1" fill="#faebe6"/><use href="#c2" fill="#f0e6e6"/><use href="#c3" fill="#d4e2ee"/><use href="#c4" fill="#c4dca4"/><use href="#st" class="nuc"/><use href="#b1" class="hl"/><text class="lr" x="1012">ZmLBD3</text></g>
<g id="leaf-ZmLBD43" transform="rotate(17.23)"><use href="#c1" fill="#f8dcd0"/><use href="#c2" fill="#eef4f4"/><use href="#c3" fill="#f8fafc"/><use href="#c4" fill="#ccdca4"/><use href="#st" class="nuc"/><use href="#b2" class="hl"/><text class="lr" x="1012">ZmLBD43</text></g>
<g id="leaf-OsLBD13" transform="rotate(20.33)"><use href="#c1" fill="#fffaf6"/><use href="#c2" fill="#eaf2f4"/><use href="#c3" fill="#a8c4dc"/><use href="#c4" fill="#e0dc9c"/><use href="#tr" class="cyt"/><text class="lr" x="1012">OsLBD13</text></g>
<g id="leaf-AtLBD18" transform="rotate(23.43)"><use href="#c1" fill="#f8dcd0"/><use href="#c2" fill="#eef2f4"/><use href="#c3" fill="#e0ecf4"/><use href="#c4" fill="#d4dca0"/><use href="#sq" class="chl"/><text class="lr" x="1012">AtLBD18</text></g>
<g id="leaf-AtLBD30" transform="rotate(26.52)"><use href="#c1" fill="#f4d4c8"/><use href="#c2" fill="#ecc8c8"/><use href="#c3" fill="#fdf6ec"/><use href="#c4" fill="#d0dca4"/><use href="#sq" class="chl"/><text class="lr" x="1012">AtLBD30</text></g>
<g id="leaf-ZmLBD6" transform="rotate(29.62)"><use href="#c1" fill="#f4dcd0"/><use href="#c2" fill="#e8b8b8"/><use href="#c3" fill="#c0d4e4"/><use href="#c4" fill="#8ca4bc"/><use href="#st" class="nuc"/><use href="#b1" class="hl"/><text class="lr" x="1012">ZmLBD6</text></g>
<g id="leaf-OsLBD29" transform="rotate(32.71)"><use href="#c1" fill="#ffffff"/><use href="#c2" fill="#e8b8b8"/><use href="#c3" fill="#a8c4dc"/><use href="#c4" fill="#bcd8a4"/><use href="#tr" class="cyt"/><text class="lr" x="1012">OsLBD29</text></g>
<g id="leaf-AtLBD20" transform="rotate(35.81)"><use href="#c1" fill="#f4f2fc"/><use href="#c2" fill="#eef4f4"/><use href="#c3" fill="#a4c0d8"/><use href="#c4" fill="#8ca4b8"/><use href="#tr" class="cyt"/><text class="lr" x="1012">AtLBD20</text></g>
<g id="leaf-AtLBD33" transform="rotate(38.91)"><use href="#c1" fill="#ffffff"/><use href="#c2" fill="#e8b0b0"/><use href="#c3" fill="#a0bcd4"/><use href="#c4" fill="#6878cc"/><use href="#tr" class="cyt"/><text class="lr" x="1012">AtLBD33</text></g>
<g id="leaf-AtLBD14" transform="rotate(42)"><use href="#c1" fill="#d0c4fc"/><use href="#c2" fill="#e4a0a0"/><use href="#c3" fill="#6898c0"/><use href="#c4" fill="#9cb8b4"/><use href="#tr" class="cyt"/><text class="lr" x="1012">AtLBD14</text></g>
<g id="leaf-OsLBD10" transform="rotate(45.1)"><use href="#c1" fill="#eca890"/><use href="#c2" fill="#f0f2f2"/><use href="#c3" fill="#fde6c8"/><use href="#c4" fill="#8ca0bc"/><use href="#sq" class="chl"/><text class="lr" x="1012">OsLBD10</text></g>
<g id="leaf-ZmLBD24" transform="rotate(48.19)"><use href="#c1" fill="#eca890"/><use href="#c2" fill="#f0f2f2"/><use href="#c3" fill="#fde0b4"/><use href="#c4" fill="#5c6cd4"/><use href="#st" class="nuc"/><use href="#b2" class="hl"/><text class="lr" x="1012">ZmLBD24</text></g>
<g id="leaf-AtLBD16" transform="rotate(51.29)"><use href="#c1" fill="#f4f0fc"/><use href="#c2" fill="#f0e4e4"/><use href="#c3" fill="#6898c0"/><use href="#c4" fill="#6070d4"/><use href="#tr" class="cyt"/><text class="lr" x="1012">AtLBD16</text></g>
<g id="leaf-OsLBD11" transform="rotate(54.39)"><use href="#c1" fill="#f8e0d8"/><use href="#c2" fill="#e8b4b4"/><use href="#c3" fill="#a0bcd8"/><use href="#c4" fill="#a8cca8"/><use href="#sq" class="chl"/><text class="lr" x="1012">OsLBD11</text></g>
<g id="leaf-ZmLBD1" transform="rotate(57.48)"><use href="#c1" fill="#f4d4c8"/><use href="#c2" fill="#e8b4b4"/><use href="#c3" fill="#7ca4c8"/><use href="#c4" fill="#c0dca4"/><use href="#st" class="nuc"/><use href="#b1" class="hl"/><text class="lr" x="1012">ZmLBD1</text></g>
<g id="leaf-OsLBD12" transform="rotate(60.58)"><use href="#c1" fill="#f4d0c4"/><use href="#c2" fill="#e8b0b0"/><use href="#c3" fill="#a8c4dc"/><use href="#c4" fill="#4c58dc"/><use href="#tr" class="cyt"/><text class="lr" x="1012">OsLBD12</text></g>
<g id="leaf-ZmLBD2" transform="rotate(63.67)"><use href="#c1" fill="#f4dcd0"/><use href="#c2" fill="#e8b0b0"/><use href="#c3" fill="#94b4d0"/><use href="#c4" fill="#4850dc"/><use href="#st" class="nuc"/><use href="#b1" class="hl"/><text class="lr" x="1012">ZmLBD2</text></g>
<g id="leaf-ZmLBD44" transform="rotate(66.77)"><use href="#c1" fill="#fcebe6"/><use href="#c2" fill="#e8b0b0"/><use href="#c3" fill="#88acd0"/><use href="#c4" fill="#6070d0"/><use href="#st" class="nuc"/><use href="#b2" class="hl"/><text class="lr" x="1012">ZmLBD44</text></g>
<g id="leaf-OsLBD27" transform="rotate(69.87)"><use href="#c1" fill="#f4d8cc"/><use href="#c2" fill="#e4a0a0"/><use href="#c3" fill="#94b4d0"/><use href="#c4" fill="#6070d0"/><use href="#sq" class="chl"/><text class="lr" x="1012">OsLBD27</text></g>
<g id="leaf-ZmLBD8" transform="rotate(72.96)"><use href="#c1" fill="#fdfaf8"/><use href="#c2" fill="#e8a8a8"/><use href="#c3" fill="#94b4d0"/><use href="#c4" fill="#5560d4"/><use href="#st" class="nuc"/><use href="#b1" class="hl"/><text class="lr" x="1012">ZmLBD8</text></g>
<g id="leaf-AtLBD17" transform="rotate(76.06)"><use href="#c1" fill="#b8a0f8"/><use href="#c2" fill="#e8acac"/><use href="#c3" fill="#3c78a8"/><use href="#c4" fill="#8ca4b8"/><use href="#tr" class="cyt"/><text class="lr" x="1012">AtLBD17</text></g>
<g id="leaf-AtLBD29" transform="rotate(79.15)"><use href="#c1" fill="#e0d8fc"/><use href="#c2" fill="#e8a8a8"/><use href="#c3" fill="#6c9cc4"/><use href="#c4" fill="#7890c4"/><use href="#tr" class="cyt"/><text class="lr" x="1012">AtLBD29</text></g>
<g id="leaf-OsLBD19" transform="rotate(82.25)"><use href="#c1" fill="#eca890"/><use href="#c2" fill="#e08888"/><use href="#c3" fill="#fdb664"/><use href="#c4" fill="#6070d0"/><use href="#ci" class="mit"/><text class="lr" x="1012">OsLBD19</text></g>
<g id="leaf-ZmLBD27" transform="rotate(85.35)"><use href="#c1" fill="#e89c80"/><use href="#c2" fill="#e8acac"/><use href="#c3" fill="#fda848"/><use href="#c4" fill="#7c90c8"/><use href="#st" class="nuc"/><use href="#b2" class="hl"/><text class="lr" x="1012">ZmLBD27</text></g>
<g id="leaf-ZmLBD39" transform="rotate(88.44)"><use href="#c1" fill="#eca88e"/><use href="#c2" fill="#ecd0d0"/><use href="#c3" fill="#fdb664"/><use href="#c4" fill="#8ca4c0"/><use href="#st" class="nuc"/><use href="#b2" class="hl"/><text class="lr" x="1012">ZmLBD39</text></g>
<g id="leaf-OsLBD14" transform="rotate(91.54)"><use href="#c1" fill="#fae6e0"/><use href="#c2" fill="#e8acac"/><use href="#c3" fill="#fdf4e8"/><use href="#c4" fill="#b4d8a4"/><use href="#sq" class="chl"/><text class="ll" x="-1012" transform="rotate(180)">OsLBD14</text></g>
<g id="leaf-ZmLBD42" transform="rotate(94.63)"><use href="#c1" fill="#fae6e0"/><use href="#c2" fill="#e8a4a4"/><use href="#c3" fill="#f2f6f8"/><use href="#c4" fill="#b4d8a4"/><use href="#st" class="nuc"/><use href="#b2" class="hl"/><text class="ll" x="-1012" transform="rotate(180)">ZmLBD42</text></g>
<g id="leaf-AtLBD1" transform="rotate(97.73)"><use href="#c1" fill="#ffffff"/><use href="#c2" fill="#e49494"/><use href="#c3" fill="#fdf2e4"/><use href="#c4" fill="#b4d8a4"/><use href="#sq" class="chl"/><text class="ll" x="-1012" transform="rotate(180)">AtLBD1</text></g>
<g id="leaf-AtLBD11" transform="rotate(100.83)"><use href="#c1" fill="#e8e0fc"/><use href="#c2" fill="#e08888"/><use href="#c3" fill="#c8dcec"/><use href="#c4" fill="#d0dca0"/><use href="#sq" class="chl"/><text class="ll" x="-1012" transform="rotate(180)">AtLBD11</text></g>
<g id="leaf-AtLBD4" transform="rotate(103.92)"><use href="#c1" fill="#ffffff"/><use href="#c2" fill="#eee0de"/><use href="#c3" fill="#bcd0e4"/><use href="#c4" fill="#c4dca4"/><use href="#sq" class="chl"/><text class="ll" x="-1012" transform="rotate(180)">AtLBD4</text></g>
<g id="leaf-ZmLBD12" transform="rotate(107.02)"><use href="#c1" fill="#eeb09a"/><use href="#c2" fill="#d0e4f4"/><use href="#c3" fill="#fdf4e8"/><use href="#c4" fill="#6070d0"/><use href="#st" class="nuc"/><use href="#b2" class="hl"/><text class="ll" x="-1012" transform="rotate(180)">ZmLBD12</text></g>
<g id="leaf-ZmLBD25" transform="rotate(110.11)"><use href="#c1" fill="#f0c8b8"/><use href="#c2" fill="#f0e4e4"/><use href="#c3" fill="#f4f8fa"/><use href="#c4" fill="#8ca4b8"/><use href="#st" class="nuc"/><use href="#b2" class="hl"/><text class="ll" x="-1012" transform="rotate(180)">ZmLBD25</text></g>
<g id="leaf-AtLBD3" transform="rotate(113.21)"><use href="#c1" fill="#ffffff"/><use href="#c2" fill="#dceaf4"/><use href="#c3" fill="#eef4f8"/><use href="#c4" fill="#7080c8"/><use href="#ci" class="mit"/><text class="ll" x="-1012" transform="rotate(180)">AtLBD3</text></g>
<g id="leaf-ZmLBD45" transform="rotate(116.31)"><use href="#c1" fill="#f4d8cc"/><use href="#c2" fill="#e08a8a"/><use href="#c3" fill="#fda030"/><use href="#c4" fill="#90a8b8"/><use href="#st" class="nuc"/><use href="#b2" class="hl"/><text class="ll" x="-1012" transform="rotate(180)">ZmLBD45</text></g>
<g id="leaf-OsLBD30" transform="rotate(119.4)"><use href="#c1" fill="#faeae6"/><use href="#c2" fill="#e8b4b4"/><use href="#c3" fill="#fdf0e0"/><use href="#c4" fill="#98b4b0"/><use href="#ci" class="mit"/><text class="ll" x="-1012" transform="rotate(180)">OsLBD30</text></g>
<g id="leaf-OsLBD31" transform="rotate(122.5)"><use href="#c1" fill="#faeeea"/><use href="#c2" fill="#ecc0c0"/><use href="#c3" fill="#fdf0e0"/><use href="#c4" fill="#98b4b0"/><use href="#ci" class="mit"/><text class="ll" x="-1012" transform="rotate(180)">OsLBD31</text></g>
<g id="leaf-AtLBD12" transform="rotate(125.59)"><use href="#c1" fill="#f6f4fe"/><use href="#c2" fill="#e8b8b8"/><use href="#c3" fill="#fdfdfc"/><use href="#c4" fill="#6878cc"/><use href="#tr" class="cyt"/><text class="ll" x="-1012" transform="rotate(180)">AtLBD12</text></g>
<g id="leaf-OsLBD22" transform="rotate(128.69)"><use href="#c1" fill="#fae6e0"/><use href="#c2" fill="#e8b0b0"/><use href="#c3" fill="#fdf0e4"/><use href="#c4" fill="#7890c4"/><use href="#sq" class="chl"/><text class="ll" x="-1012" transform="rotate(180)">OsLBD22</text></g>
<g id="leaf-ZmLBD30" transform="rotate(131.79)"><use href="#c1" fill="#eeb49c"/><use href="#c2" fill="#e4a4a4"/><use href="#c3" fill="#fde0b8"/><use href="#c4" fill="#5c6cd4"/><use href="#st" class="nuc"/><use href="#b2" class="hl"/><text class="ll" x="-1012" transform="rotate(180)">ZmLBD30</text></g>
<g id="leaf-OsLBD20" transform="rotate(134.88)"><use href="#c1" fill="#eca890"/><use href="#c2" fill="#d8e8f4"/><use href="#c3" fill="#fdc888"/><use href="#c4" fill="#98b4b0"/><use href="#sq" class="chl"/><text class="ll" x="-1012" transform="rotate(180)">OsLBD20</text></g>
<g id="leaf-ZmLBD35" transform="rotate(137.98)"><use href="#c1" fill="#e49070"/><use href="#c2" fill="#d0e4f2"/><use href="#c3" fill="#fdbc70"/><use href="#c4" fill="#b4d8a4"/><use href="#st" class="nuc"/><use href="#b2" class="hl"/><text class="ll" x="-1012" transform="rotate(180)">ZmLBD35</text></g>
<g id="leaf-OsLBD8" transform="rotate(141.07)"><use href="#c1" fill="#f4dcd0"/><use href="#c2" fill="#e8b8b8"/><use href="#c3" fill="#fdf2e6"/><use href="#c4" fill="#8ca4b8"/><use href="#st" class="nuc"/><text class="ll" x="-1012" transform="rotate(180)">OsLBD8</text></g>
<g id="leaf-ZmLBD20" transform="rotate(144.17)"><use href="#c1" fill="#f4d0c4"/><use href="#c2" fill="#e8c0c0"/><use href="#c3" fill="#fda850"/><use href="#c4" fill="#7890c4"/><use href="#st" class="nuc"/><use href="#b2" class="hl"/><text class="ll" x="-1012" transform="rotate(180)">ZmLBD20</text></g>
<g id="leaf-AtLBD15" transform="rotate(147.27)"><use href="#c1" fill="#d8ccfc"/><use href="#c2" fill="#d4e6f2"/><use href="#c3" fill="#90b0cc"/><use href="#c4" fill="#d4dca0"/><use href="#sq" class="chl"/><text class="ll" x="-1012" transform="rotate(180)">AtLBD15</text></g>
<g id="leaf-AtLBD13" transform="rotate(150.36)"><use href="#c1" fill="#ece4fc"/><use href="#c2" fill="#f2f4f2"/><use href="#c3" fill="#a0bcd8"/><use href="#c4" fill="#d0dca0"/><use href="#tr" class="cyt"/><text class="ll" x="-1012" transform="rotate(180)">AtLBD13</text></g>
<g id="leaf-AtLBD21" transform="rotate(153.46)"><use href="#c1" fill="#f4d0c4"/><use href="#c2" fill="#e8b0b0"/><use href="#c3" fill="#ff8000"/><use href="#c4" fill="#98b0b4"/><use href="#ci" class="mit"/><text class="ll" x="-1012" transform="rotate(180)">AtLBD21</text></g>
<g id="leaf-OsLBD2" transform="rotate(156.55)"><use href="#c1" fill="#f0c4b0"/><use href="#c2" fill="#f0e4e4"/><use href="#c3" fill="#fde8d0"/><use href="#c4" fill="#7c90c8"/><use href="#sq" class="chl"/><text class="ll" x="-1012" transform="rotate(180)">OsLBD2</text></g>
<g id="leaf-ZmLBD16" transform="rotate(159.65)"><use href="#c1" fill="#f4c8b4"/><use href="#c2" fill="#f0e4e4"/><use href="#c3" fill="#fdf8f0"/><use href="#c4" fill="#98b0b8"/><use href="#st" class="nuc"/><use href="#b2" class="hl"/><text class="ll" x="-1012" transform="rotate(180)">ZmLBD16</text></g>
<g id="leaf-AtLBD25" transform="rotate(162.75)"><use href="#c1" fill="#f2f0fe"/><use href="#c2" fill="#d4e6f2"/><use href="#c3" fill="#fdf6ec"/><use href="#c4" fill="#7890c4"/><use href="#sq" class="chl"/><text class="ll" x="-1012" transform="rotate(180)">AtLBD25</text></g>
<g id="leaf-ZmLBD10" transform="rotate(165.84)"><use href="#c1" fill="#ffffff"/><use href="#c2" fill="#e8baba"/><use href="#c3" fill="#e6eef4"/><use href="#c4" fill="#8ca8b8"/><use href="#st" class="nuc"/><use href="#b2" class="hl"/><text class="ll" x="-1012" transform="rotate(180)">ZmLBD10</text></g>
<g id="leaf-ZmLBD26" transform="rotate(168.94)"><use href="#c1" fill="#f4f2fe"/><use href="#c2" fill="#ecc8c8"/><use href="#c3" fill="#b8d0e4"/><use href="#c4" fill="#8ca0c0"/><use href="#st" class="nuc"/><use href="#b2" class="hl"/><text class="ll" x="-1012" transform="rotate(180)">ZmLBD26</text></g>
<g id="leaf-OsLBD17" transform="rotate(172.03)"><use href="#c1" fill="#c8b8fc"/><use href="#c2" fill="#f0d8d8"/><use href="#c3" fill="#b0c8e0"/><use href="#c4" fill="#b4d8a8"/><use href="#ci" class="mit"/><text class="ll" x="-1012" transform="rotate(180)">OsLBD17</text></g>
<g id="leaf-AtLBD36" transform="rotate(175.13)"><use href="#c1" fill="#b8a8f8"/><use href="#c2" fill="#e8b8b8"/><use href="#c3" fill="#9cbcd8"/><use href="#c4" fill="#b8d8a4"/><use href="#tr" class="cyt"/><text class="ll" x="-1012" transform="rotate(180)">AtLBD36</text></g>
<g id="leaf-AtLBD10" transform="rotate(178.23)"><use href="#c1" fill="#c0acf8"/><use href="#c2" fill="#e07c7c"/><use href="#c3" fill="#98b8d4"/><use href="#c4" fill="#8ca0b8"/><use href="#sq" class="chl"/><text class="ll" x="-1012" transform="rotate(180)">AtLBD10</text></g>
<g id="leaf-ZmLBD31" transform="rotate(181.32)"><use href="#c1" fill="#f0bca8"/><use href="#c2" fill="#e6eef4"/><use href="#c3" fill="#e4eef4"/><use href="#c4" fill="#0404f8"/><use href="#st" class="nuc"/><use href="#b2" class="hl"/><text class="ll" x="-1012" transform="rotate(180)">ZmLBD31</text></g>
<g id="leaf-ZmLBD41" transform="rotate(184.42)"><use href="#c1" fill="#f0bca8"/><use href="#c2" fill="#eaf2f4"/><use href="#c3" fill="#fdcc98"/><use href="#c4" fill="#0808f8"/><use href="#st" class="nuc"/><use href="#b2" class="hl"/><text class="ll" x="-1012" transform="rotate(180)">ZmLBD41</text></g>
<g id="leaf-ZmLBD36" transform="rotate(187.51)"><use href="#c1" fill="#f0c4b4"/><use href="#c2" fill="#e8b8b8"/><use href="#c3" fill="#a4c0d8"/><use href="#c4" fill="#5058d8"/><use href="#st" class="nuc"/><use href="#b2" class="hl"/><text class="ll" x="-1012" transform="rotate(180)">ZmLBD36</text></g>
<g id="leaf-OsLBD21" transform="rotate(190.61)"><use href="#c1" fill="#f0c0ac"/><use href="#c2" fill="#eef4f4"/><use href="#c3" fill="#d4e4f0"/><use href="#c4" fill="#4c58d8"/><use href="#sq" class="chl"/><text class="ll" x="-1012" transform="rotate(180)">OsLBD21</text></g>
<g id="leaf-OsLBD9" transform="rotate(193.71)"><use href="#c1" fill="#f4cfc0"/><use href="#c2" fill="#f0f4f4"/><use href="#c3" fill="#c8dcea"/><use href="#c4" fill="#4c4ce0"/><use href="#sq" class="chl"/><text class="ll" x="-1012" transform="rotate(180)">OsLBD9</text></g>
<g id="leaf-ZmLBD40" transform="rotate(196.8)"><use href="#c1" fill="#f4d0c0"/><use href="#c2" fill="#e6eef4"/><use href="#c3" fill="#a8c4dc"/><use href="#c4" fill="#4850e0"/><use href="#st" class="nuc"/><use href="#b2" class="hl"/><text class="ll" x="-1012" transform="rotate(180)">ZmLBD40</text></g>
<g id="leaf-ZmLBD19" transform="rotate(199.9)"><use href="#c1" fill="#f4d0c0"/><use href="#c2" fill="#eee4e4"/><use href="#c3" fill="#d4e2ee"/><use href="#c4" fill="#4850e0"/><use href="#st" class="nuc"/><use href="#b2" class="hl"/><text class="ll" x="-1012" transform="rotate(180)">ZmLBD19</text></g>
</g>

<g id="legend">
<text class="lg" x="3127" y="268">Grand average of hydropathicity</text>
<rect x="3136" y="291" width="99" height="30.7" fill="#7044f0"/>
<rect x="3136" y="321.2" width="99" height="30.7" fill="#8c6cf4"/>
<rect x="3136" y="351.4" width="99" height="30.7" fill="#a890f6"/>
<rect x="3136" y="381.6" width="99" height="30.7" fill="#c4b4f8"/>
<rect x="3136" y="411.8" width="99" height="30.2" fill="#e4dcfc"/>
<rect x="3136" y="471" width="99" height="30.5" fill="#fbe8e0"/>
<rect x="3136" y="501" width="99" height="30.5" fill="#f6d4c6"/>
<rect x="3136" y="531" width="99" height="30.5" fill="#f2c0ac"/>
<rect x="3136" y="561" width="99" height="30.5" fill="#eeac94"/>
<rect x="3136" y="591" width="99" height="30" fill="#ea9878"/>
<text class="lg" x="3258" y="336">−0.88</text>
<text class="lg" x="3258" y="628">0.19</text>
<text class="lg" x="3127" y="705">Isoelectric point</text>
<rect x="3136" y="728" width="99" height="29.8" fill="#e07878"/>
<rect x="3136" y="757.3" width="99" height="29.8" fill="#e48c8c"/>
<rect x="3136" y="786.6" width="99" height="29.8" fill="#e8a2a2"/>
<rect x="3136" y="815.9" width="99" height="29.8" fill="#ecbebe"/>
<rect x="3136" y="845.2" width="99" height="29.8" fill="#eedcdc"/>
<rect x="3136" y="874.5" width="99" height="29.8" fill="#f2f2f2"/>
<rect x="3136" y="903.8" width="99" height="29.8" fill="#d8e8f4"/>
<rect x="3136" y="933.1" width="99" height="29.8" fill="#bcdaf2"/>
<rect x="3136" y="962.4" width="99" height="29.8" fill="#9ccaf0"/>
<rect x="3136" y="991.7" width="99" height="29.3" fill="#70b2ec"/>
<text class="lg" x="3258" y="775">4.5</text>
<text class="lg" x="3262" y="1010">11.8</text>
<text class="lg" x="3127" y="1141">Aliphatic Index</text>
<rect x="3136" y="1168" width="99" height="27.5" fill="#0c4c8c"/>
<rect x="3136" y="1195" width="99" height="27.5" fill="#3c74a8"/>
<rect x="3136" y="1222" width="99" height="27.5" fill="#6894c0"/>
<rect x="3136" y="1249" width="99" height="27.5" fill="#98b4d4"/>
<rect x="3136" y="1276" width="99" height="27" fill="#ccdcec"/>
<rect x="3136" y="1332" width="99" height="27.7" fill="#fde8d4"/>
<rect x="3136" y="1359.2" width="99" height="27.7" fill="#fdd0a4"/>
<rect x="3136" y="1386.4" width="99" height="27.7" fill="#fdb46c"/>
<rect x="3136" y="1413.6" width="99" height="27.7" fill="#fd9c3c"/>
<rect x="3136" y="1440.8" width="99" height="27.2" fill="#fd8000"/>
<text class="lg" x="3258" y="1208">54</text>
<text class="lg" x="3258" y="1475">94</text>
<text class="lg" x="3127" y="1579">Instability index</text>
<rect x="3136" y="1608" width="99" height="30.1" fill="#0000ff"/>
<rect x="3136" y="1637.6" width="99" height="30.1" fill="#2424ec"/>
<rect x="3136" y="1667.2" width="99" height="30.1" fill="#4848d8"/>
<rect x="3136" y="1696.8" width="99" height="30.1" fill="#6c78c8"/>
<rect x="3136" y="1726.4" width="99" height="30.1" fill="#8ca4b8"/>
<rect x="3136" y="1756" width="99" height="30.1" fill="#a8c8a8"/>
<rect x="3136" y="1785.6" width="99" height="30.1" fill="#c0d8a4"/>
<rect x="3136" y="1815.2" width="99" height="30.1" fill="#d4dca0"/>
<rect x="3136" y="1844.8" width="99" height="30.1" fill="#e4e09c"/>
<rect x="3136" y="1874.4" width="99" height="29.6" fill="#fce49c"/>
<text class="lg" x="3258" y="1630">28</text>
<text class="lg" x="3258" y="1918">95</text>
<text class="lg" x="3127" y="2038">Subcellular localization</text>
<rect x="3142" y="2081" width="51" height="51" class="chl"/>
<text class="lg" x="3244" y="2118">chl</text>
<circle cx="3167.5" cy="2212.5" r="25" class="mit"/>
<text class="lg" x="3244" y="2228">mit</text>
<polygon points="3167.5,2300 3142,2348 3193,2348" class="cyt"/>
<text class="lg" x="3244" y="2336">cyt</text>
<polygon points="3169.5,2404 3176.44,2422.45 3196.13,2423.35 3180.72,2435.65 3185.96,2454.65 3169.5,2443.8 3153.04,2454.65 3158.28,2435.65 3142.87,2423.35 3162.56,2422.45" class="nuc"/>
<text class="lg" x="3244" y="2446">nuc</text>
</g>
</svg>
